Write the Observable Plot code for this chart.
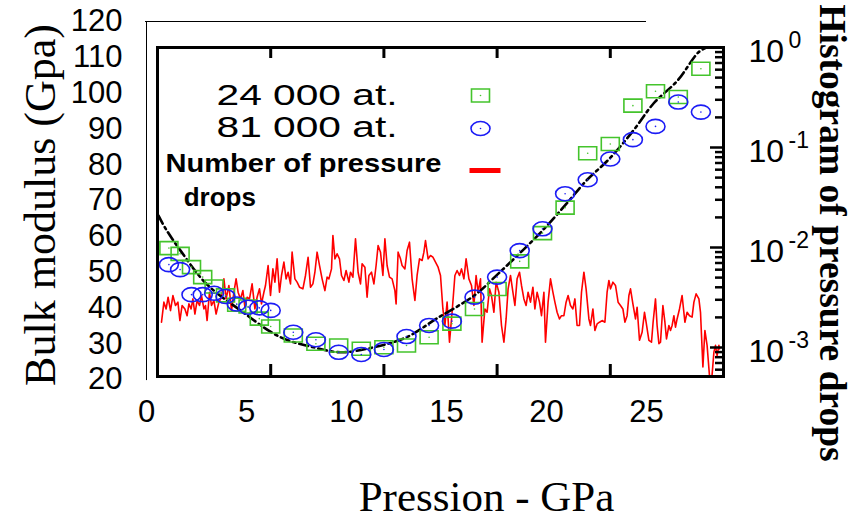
<!DOCTYPE html>
<html><head><meta charset="utf-8">
<script src="https://cdn.jsdelivr.net/npm/d3@7"></script>
<script src="https://cdn.jsdelivr.net/npm/@observablehq/plot@0.6"></script>
<style>html,body{margin:0;padding:0;background:#fff}#chart{width:858px;height:520px}</style>
</head><body><div id="chart"></div>
<script>
// ---- data ----
const pressure = [1.12, 1.68, 2.25, 2.81, 3.38, 3.95, 4.51, 5.08, 5.64, 6.21, 7.34, 8.47, 9.61, 10.74, 11.87, 13.0, 14.13, 15.27, 16.4, 17.53, 18.66, 19.8, 20.93, 22.06, 23.19, 24.32, 25.45, 26.59, 27.72];
const bulk24k = [56.7, 55.1, 51.4, 48.6, 46.0, 43.5, 40.9, 40.4, 37.0, 34.8, 32.3, 30.0, 29.5, 28.6, 29.0, 29.5, 31.8, 35.6, 39.7, 45.3, 53.0, 60.9, 68.0, 83.2, 85.8, 96.5, 100.5, 98.9, 106.8];
const bulk81k = [52.1, 50.7, 43.7, 43.7, 44.1, 43.2, 41.1, 40.2, 40.0, 39.3, 33.2, 31.1, 27.6, 27.0, 28.4, 32.0, 35.1, 36.3, 43.0, 48.6, 56.0, 62.1, 71.9, 75.8, 81.6, 87.0, 90.7, 97.5, 94.7];
const fitPressure = [0.6, 0.95, 1.7, 3.0, 4.7, 6.7, 8.35, 9.7, 11.35, 13.0, 14.5, 16.4, 17.5, 18.65, 19.8, 21.0, 22.0, 23.15, 24.35, 25.35, 26.55, 27.6, 28.0];
const fitBulk = [65.8, 62.2, 56.0, 46.7, 39.3, 31.8, 29.0, 27.6, 29.0, 31.8, 37.0, 43.5, 49.1, 55.2, 61.6, 69.1, 75.6, 81.7, 89.6, 97.1, 103.5, 111.4, 112.7];
// histogram of pressure drops: [pressure, frequency]
const drops = [
[0.75,.00179],[0.87,.00284],[0.98,.00243],[1.08,.00318],[1.20,.00234],[1.32,.00331],[1.45,.00263],[1.57,.00284],[1.67,.00186],[1.78,.00263],
[1.92,.00243],[2.03,.00208],[2.12,.00273],[2.23,.00243],[2.32,.00306],[2.42,.00216],[2.53,.00295],[2.65,.00263],[2.75,.00331],[2.87,.00243],
[2.95,.00263],[3.03,.00186],[3.15,.00357],[3.25,.00263],[3.37,.00295],[3.48,.00216],[3.62,.00284],[3.75,.00318],[3.87,.00486],[3.98,.00306],
[4.12,.00417],[4.25,.00234],[4.37,.00357],[4.48,.00486],[4.58,.00357],[4.70,.00306],[4.82,.00371],[4.92,.00253],[5.03,.00318],[5.15,.00306],
[5.28,.00433],[5.42,.00243],[5.53,.00318],[5.65,.00386],[5.75,.00273],[5.87,.00357],[5.95,.00417],[6.08,.00661],[6.20,.00331],[6.32,.00611],
[6.42,.0045],[6.53,.0077],[6.65,.00357],[6.75,.00525],[6.87,.00714],[6.98,.00486],[7.08,.00566],[7.20,.00433],[7.28,.00898],[7.42,.00486],
[7.53,.0045],[7.65,.00401],[7.82,.00386],[7.95,.00525],[8.08,.0080],[8.20,.00401],[8.32,.00433],[8.42,.00566],[8.53,.00898],[8.65,.00661],
[8.78,.00486],[8.92,.00371],[9.03,.00505],[9.12,.00486],[9.25,.00611],[9.32,.0132],[9.42,.0077],[9.53,.00864],[9.65,.0077],[9.75,.00525],
[9.87,.00468],[9.98,.00589],[10.12,.0045],[10.20,.00566],[10.32,.00505],[10.45,.01222],[10.58,.00566],[10.70,.00433],[10.78,.00686],[10.92,.00636],
[11.03,.00318],[11.12,.00525],[11.25,.00566],[11.37,.00433],[11.48,.00661],[11.58,.01047],[11.70,.00898],[11.82,.00525],[11.92,.01222],[12.03,.00661],
[12.15,.00505],[12.28,.00486],[12.42,.00371],[12.48,.00273],[12.58,.00898],[12.70,.0077],[12.78,.00661],[12.92,.00611],[13.03,.00933],[13.15,.0113],
[13.28,.00486],[13.42,.00295],[13.53,.00525],[13.65,.0077],[13.78,.00742],[13.87,.00898],[13.95,.01175],[14.08,.0077],[14.20,.00832],[14.32,.0080],
[14.45,.00714],[14.58,.00636],[14.70,.00525],[14.82,.00243],[14.92,.00166],[15.03,.00284],[15.15,.00113],[15.28,.00225],[15.42,.00525],[15.53,.00589],
[15.65,.00525],[15.75,.00611],[15.87,.00486],[15.98,.0077],[16.12,.00486],[16.25,.00417],[16.37,.00263],[16.48,.00525],[16.58,.00357],[16.70,.00486],
[16.78,.00113],[16.92,.00243],[17.03,.00225],[17.15,.00386],[17.25,.00331],[17.37,.00225],[17.48,.0045],[17.62,.00357],[17.75,.00166],[17.87,.00113],
[17.98,.00193],[18.08,.00386],[18.20,.00525],[18.32,.00357],[18.42,.00263],[18.53,.00486],[18.65,.00566],[18.75,.00417],[18.87,.00306],[18.98,.00263],
[19.08,.00357],[19.20,.00284],[19.32,.00401],[19.42,.00243],[19.53,.00357],[19.65,.00284],[19.75,.00208],[19.87,.00357],[19.95,.00113],[20.08,.00284],
[20.20,.00486],[20.32,.00357],[20.42,.00284],[20.53,.00225],[20.65,.00193],[20.75,.00208],[20.87,.00208],[20.98,.00284],[21.08,.00331],[21.20,.00263],
[21.32,.00243],[21.42,.00306],[21.53,.00166],[21.65,.00166],[21.75,.00357],[21.87,.00566],[21.98,.00386],[22.12,.00193],[22.20,.00166],[22.32,.00243],
[22.42,.00148],[22.53,.00172],[22.65,.00179],[22.78,.00186],[22.92,.00179],[23.03,.00357],[23.12,.00468],[23.20,.00386],[23.32,.0045],[23.45,.00417],
[23.58,.00284],[23.70,.00263],[23.82,.00243],[23.92,.00179],[24.03,.00208],[24.12,.00331],[24.20,.00386],[24.32,.00273],[24.45,.00193],[24.53,.00253],
[24.65,.00118],[24.78,.00142],[24.90,.00225],[24.98,.00179],[25.12,.00118],[25.25,.00113],[25.33,.00179],[25.45,.00306],[25.53,.00166],[25.62,.00109],
[25.70,.00113],[25.82,.00263],[25.92,.00179],[26.00,.00122],[26.12,.00166],[26.20,.00148],[26.28,.00166],[26.37,.00208],[26.45,.0016],[26.53,.00193],
[26.65,.00243],[26.78,.00331],[26.92,.00179],[27.03,.00225],[27.15,.00208],[27.28,.00201],[27.37,.00284],[27.48,.00344],[27.62,.00306],[27.70,.00225],
[27.82,.00064],[27.92,.00148],[28.03,.00105],[28.15,.00052],[28.25,.00045],[28.37,.0009],[28.45,.00105],[28.53,.00083],[28.62,.00105],[28.65,.00097]
];
const xTicks = [0, 5, 10, 15, 20, 25];
const yTicks = [20, 30, 40, 50, 60, 70, 80, 90, 100, 110, 120];
const rightExponents = [0, -1, -2, -3];
const legendLabels = ["24 000 at.", "81 000 at.", "Number of pressure", " drops"];

// ---- layout / scales ----
const W = 858, H = 520, mL = 157, mR = 135, mT = 47, mB = 144;
const frameW = W - mL - mR, frameH = H - mT - mB;
const xDomain = [0.55, 28.85];
const yDomain = [20.84, 112.74];
const pxPerUnit = frameH / (yDomain[1] - yDomain[0]);
const decade = 100 / pxPerUnit;                    // one decade of the right log axis
const logToY = v => yDomain[1] + decade * Math.log10(v);
const innerTicks = d3.range(1, 5).map(i => xDomain[0] + i * (xDomain[1] - xDomain[0]) / 5);
const minorLog = [];
for (let k = -4; k <= -1; k++) for (let m = 2; m <= 9; m++) {
  const v = m * 10 ** k; if (logToY(v) > yDomain[0]) minorLog.push(v);
}
const majorLog = [1e-3, 1e-2, 1e-1];

const GREEN = "#44c42c", BLUE = "#1c1cf5", RED = "#ff0000";
const boxSymbol = {draw(c) { c.moveTo(-9, -6.5); c.lineTo(9, -6.5); c.lineTo(9, 6.5); c.lineTo(-9, 6.5); c.closePath(); }};
const ellipseSymbol = {draw(c) {
  const rx = 9.5, ry = 7, kx = rx * 0.5523, ky = ry * 0.5523;
  c.moveTo(rx, 0);
  c.bezierCurveTo(rx, ky, kx, ry, 0, ry); c.bezierCurveTo(-kx, ry, -rx, ky, -rx, 0);
  c.bezierCurveTo(-rx, -ky, -kx, -ry, 0, -ry); c.bezierCurveTo(kx, -ry, rx, -ky, rx, 0); c.closePath();
}};
const barSymbol = {draw(c) { c.moveTo(-15.5, 0); c.lineTo(15.5, 0); }};

const pts24 = pressure.map((p, i) => ({p, b: bulk24k[i]}));
const pts81 = pressure.map((p, i) => ({p, b: bulk81k[i]}));
const fit = fitPressure.map((p, i) => ({p, b: fitBulk[i]}));
const SANS = "Liberation Sans, Arial, Helvetica, sans-serif";
const SERIF = "Liberation Serif, Times New Roman, serif";

const chart = Plot.plot({
  width: W, height: H, marginLeft: mL, marginRight: mR, marginTop: mT, marginBottom: mB,
  x: {domain: xDomain}, y: {domain: yDomain},
  style: {fontFamily: SANS, color: "black", background: "white", overflow: "visible"},
  marks: [
    // outer (labelled) axes
    Plot.ruleX([0], {y1: 19.7, y2: 120, stroke: "black", strokeWidth: 1}),
    Plot.ruleY([120], {x1: -0.05, x2: 25, stroke: "black", strokeWidth: 1.2}),
    Plot.axisY(yTicks, {anchor: "left", tickSize: 0, tickPadding: 35, fontSize: 31, label: null}),
    Plot.axisX(xTicks, {anchor: "bottom", tickSize: 0, tickPadding: 23, fontSize: 31, label: null}),
    // data
    Plot.line(drops, {x: d => d[0], y: d => logToY(d[1]), stroke: RED, strokeWidth: 1.6, clip: true}),
    Plot.line(fit, {x: "p", y: "b", stroke: "black", strokeWidth: 2.6, strokeDasharray: "9,4,2.5,4", curve: "catmull-rom", clip: true}),
    Plot.dot(pts24, {x: "p", y: "b", symbol: boxSymbol, stroke: GREEN, strokeWidth: 1.6, fill: "none"}),
    Plot.dot(pts24, {x: "p", y: "b", r: 0.8, fill: GREEN}),
    Plot.dot(pts81, {x: "p", y: "b", symbol: ellipseSymbol, stroke: BLUE, strokeWidth: 1.6, fill: "none"}),
    Plot.dot(pts81, {x: "p", y: "b", r: 0.8, fill: BLUE}),
    // inner frame and its ticks
    Plot.frame({stroke: "black", strokeWidth: 3}),
    Plot.tickX(innerTicks, {x: d => d, stroke: "black", strokeWidth: 3, insetTop: frameH - 12}),
    Plot.tickX(innerTicks, {x: d => d, stroke: "black", strokeWidth: 3, insetBottom: frameH - 11}),
    Plot.tickY(majorLog, {y: logToY, stroke: "black", strokeWidth: 2.5, insetLeft: frameW - 13}),
    Plot.tickY(minorLog, {y: logToY, stroke: "black", strokeWidth: 2.5, insetLeft: frameW - 8}),
    // right log axis labels
    Plot.text(rightExponents, {frameAnchor: "right", y: e => logToY(10 ** e), text: () => "10", textAnchor: "start", dx: 25, dy: 4, fontSize: 32}),
    Plot.text(rightExponents, {frameAnchor: "right", y: e => logToY(10 ** e), text: e => String(e), textAnchor: "start", dx: 65, dy: -7, fontSize: 23}),
    // axis titles
    Plot.text(["Bulk modulus (Gpa)"], {frameAnchor: "left", textAnchor: "middle", lineAnchor: "middle", rotate: -90, dx: -117, dy: -7, fontSize: 44, fontFamily: SERIF}),
    Plot.text(["Histogram of pressure drops"], {frameAnchor: "right", textAnchor: "middle", lineAnchor: "middle", rotate: 90, dx: 108, dy: 21, fontSize: 37.5, fontWeight: "bold", fontFamily: SERIF}),
    Plot.text(["Pression - GPa"], {frameAnchor: "bottom", lineAnchor: "middle", dx: 46, dy: 121, fontSize: 43, fontFamily: SERIF}),
    // legend
    Plot.text([legendLabels[0]], {frameAnchor: "top-left", dx: 240, dy: 48, textAnchor: "end", lineAnchor: "middle", fontSize: 30}),
    Plot.text([legendLabels[1]], {frameAnchor: "top-left", dx: 240, dy: 80, textAnchor: "end", lineAnchor: "middle", fontSize: 30}),
    Plot.text([legendLabels[2]], {frameAnchor: "top-left", dx: 8, dy: 116, textAnchor: "start", lineAnchor: "middle", fontSize: 26, fontWeight: "bold"}),
    Plot.text([legendLabels[3]], {frameAnchor: "top-left", dx: 19, dy: 150, textAnchor: "start", lineAnchor: "middle", fontSize: 26, fontWeight: "bold"}),
    Plot.dot([0], {frameAnchor: "top-left", dx: 323, dy: 48, symbol: boxSymbol, stroke: GREEN, strokeWidth: 1.6, fill: "none"}),
    Plot.dot([0], {frameAnchor: "top-left", dx: 323, dy: 48, r: 0.8, fill: GREEN}),
    Plot.dot([0], {frameAnchor: "top-left", dx: 323, dy: 81, symbol: ellipseSymbol, stroke: BLUE, strokeWidth: 1.6, fill: "none"}),
    Plot.dot([0], {frameAnchor: "top-left", dx: 323, dy: 81, r: 0.8, fill: BLUE}),
    Plot.dot([0], {frameAnchor: "top-left", dx: 327.5, dy: 123, symbol: barSymbol, stroke: RED, strokeWidth: 5})
  ]
});
// stretch legend texts to the widths seen in the reference
const widths = {"24 000 at.": 181, "81 000 at.": 181, "Number of pressure": 276};
d3.select(chart).selectAll("text").each(function () {
  const w = widths[this.textContent];
  if (w) { this.setAttribute("textLength", w); this.setAttribute("lengthAdjust", "spacingAndGlyphs"); }
});
document.getElementById("chart").appendChild(chart);
</script>
</body></html>
